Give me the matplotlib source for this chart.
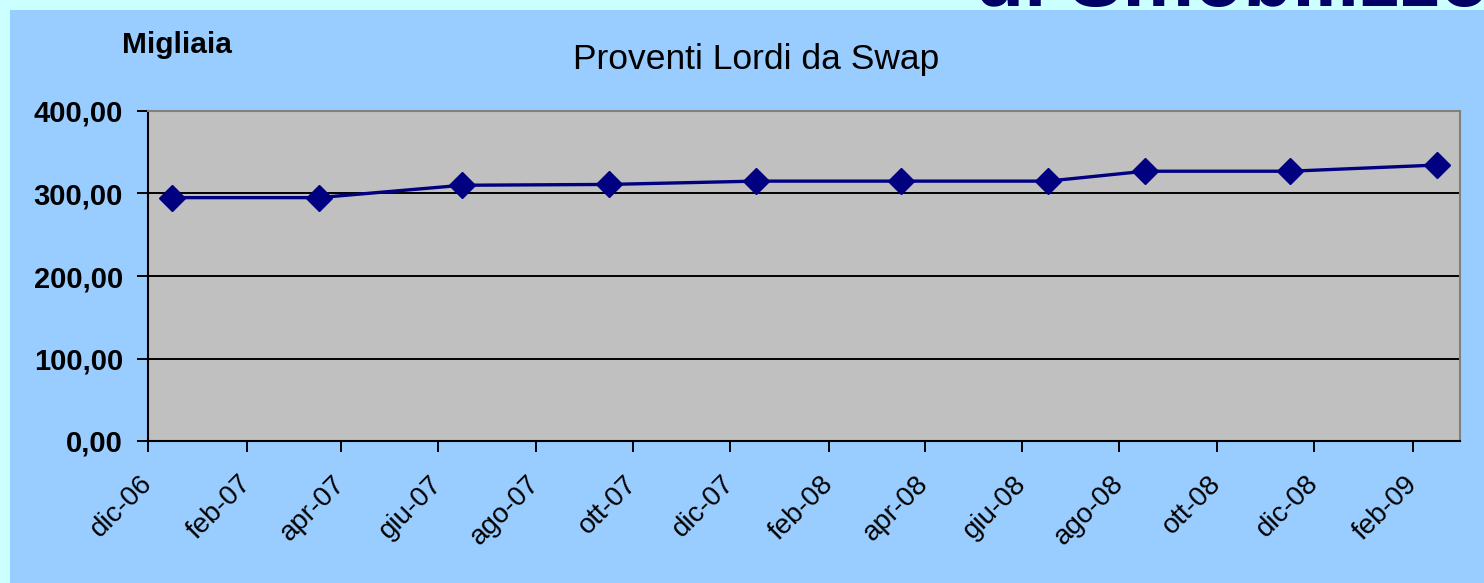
import matplotlib
matplotlib.use("Agg")
import matplotlib.pyplot as plt
from matplotlib.patches import Rectangle
from datetime import datetime

# ---- data ----
dates = ["2006-12-16", "2007-03-18", "2007-06-16", "2007-09-16", "2007-12-17",
         "2008-03-17", "2008-06-17", "2008-08-17", "2008-11-16", "2009-02-16"]
values = [295, 295, 310, 311, 315, 315, 315, 327, 327, 334.5]
tick_dates = ["2006-12-01", "2007-02-01", "2007-04-01", "2007-06-01", "2007-08-01",
              "2007-10-01", "2007-12-01", "2008-02-01", "2008-04-01", "2008-06-01",
              "2008-08-01", "2008-10-01", "2008-12-01", "2009-02-01"]
tick_labels = ["dic-06", "feb-07", "apr-07", "giu-07", "ago-07", "ott-07", "dic-07",
               "feb-08", "apr-08", "giu-08", "ago-08", "ott-08", "dic-08", "feb-09"]
y_ticks = [0, 100, 200, 300, 400]
y_labels = ["0,00", "100,00", "200,00", "300,00", "400,00"]
title = "Proventi Lordi da Swap"
unit_label = "Migliaia"
header_text = "di Smobilizzo"

W, H = 1484, 583
DPI = 100
plt.rcParams['font.family'] = ['Liberation Sans', 'DejaVu Sans']

fig = plt.figure(figsize=(W / DPI, H / DPI), dpi=DPI)
fig.patch.set_facecolor('#CCFFFF')

def fx(px):
    return px / W

def fy(py):
    return 1 - py / H

# cut-off header text behind the chart area (as in the reference)
fig.text(fx(975), fy(6), header_text, fontsize=58, fontweight='bold',
         color='#000066', ha='left', va='baseline', zorder=0.5)
fig.add_artist(Rectangle((fx(10), 0), 1 - fx(10), fy(10), transform=fig.transFigure,
                         facecolor='#99CCFF', edgecolor='none', zorder=0.8))

ax = fig.add_axes([fx(148), fy(441), fx(1460) - fx(148), (441 - 111) / H])
ax.set_zorder(2)
ax.set_facecolor('#C0C0C0')

xd = [datetime.strptime(d, "%Y-%m-%d") for d in dates]
ax.plot(xd, values, color='#000080', lw=2.4, marker='D', markersize=13,
        markerfacecolor='#000080', markeredgecolor='#000080', zorder=3, clip_on=False)

ax.set_ylim(0, 400)
ax.set_yticks(y_ticks)
ax.set_yticklabels(y_labels)
for yv in y_ticks[1:-1]:
    ax.axhline(yv, color='black', lw=1.4, zorder=1)

td = [datetime.strptime(d, "%Y-%m-%d") for d in tick_dates]
ax.set_xlim(datetime(2006, 12, 1), datetime(2009, 3, 2, 12))
ax.set_xticks(td)
ax.set_xticklabels(tick_labels, rotation=45, ha='right', va='center',
                   rotation_mode='anchor', fontsize=20)

ax.tick_params(axis='y', direction='out', length=8, width=1.4, pad=10,
               labelsize=21)
for lab in ax.get_yticklabels():
    lab.set_fontweight('bold')
ax.tick_params(axis='x', direction='out', length=8, width=1.4, pad=20)

for s in ['left', 'bottom']:
    ax.spines[s].set_color('black')
    ax.spines[s].set_linewidth(1.5)
for s in ['top', 'right']:
    ax.spines[s].set_color('#808080')
    ax.spines[s].set_linewidth(1.5)

fig.text(fx(756), fy(69), title, fontsize=25.5, ha='center', va='baseline',
         color='black', zorder=5)
fig.text(fx(122), fy(53), unit_label, fontsize=21.5, fontweight='bold',
         ha='left', va='baseline', color='black', zorder=5)

fig.savefig('out.png', dpi=DPI, facecolor=fig.get_facecolor())
